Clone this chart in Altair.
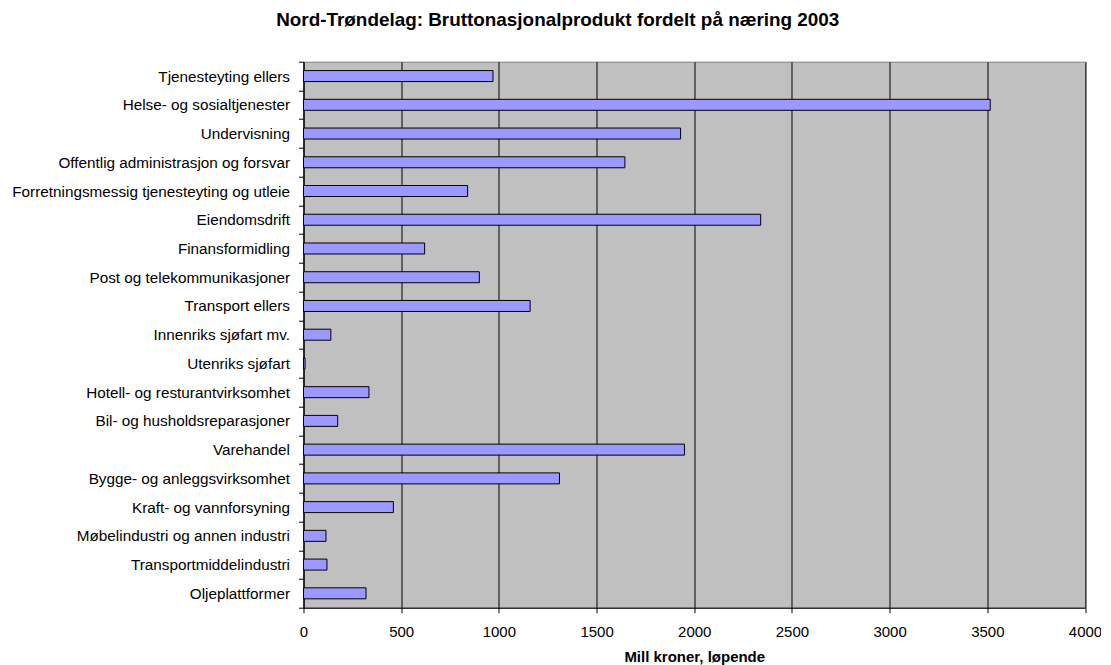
import altair as alt
import pandas as pd

naeringer = [
    "Tjenesteyting ellers",
    "Helse- og sosialtjenester",
    "Undervisning",
    "Offentlig administrasjon og forsvar",
    "Forretningsmessig tjenesteyting og utleie",
    "Eiendomsdrift",
    "Finansformidling",
    "Post og telekommunikasjoner",
    "Transport ellers",
    "Innenriks sjøfart mv.",
    "Utenriks sjøfart",
    "Hotell- og resturantvirksomhet",
    "Bil- og husholdsreparasjoner",
    "Varehandel",
    "Bygge- og anleggsvirksomhet",
    "Kraft- og vannforsyning",
    "Møbelindustri og annen industri",
    "Transportmiddelindustri",
    "Oljeplattformer",
]
verdier = [970, 3515, 1930, 1645, 840, 2340, 620, 900, 1160, 140, 8, 335, 175,
           1950, 1310, 460, 115, 120, 320]
x_ticks = [0, 500, 1000, 1500, 2000, 2500, 3000, 3500, 4000]

df = pd.DataFrame({"naering": naeringer, "verdi": verdier})

FONT = "Liberation Sans"

chart = alt.Chart(df).mark_bar(
    fill="#9999FF", stroke="#000000", strokeWidth=1, height=11
).encode(
    x=alt.X(
        "verdi:Q",
        scale=alt.Scale(domain=[0, 4000], nice=False, zero=True),
        axis=alt.Axis(
            values=x_ticks, format="d", grid=True, gridColor="#000000",
            gridWidth=1, gridOpacity=1, domainColor="#000000", domainWidth=1,
            tickColor="#000000", tickSize=5, tickWidth=1,
            labelFont=FONT, labelFontSize=15, labelColor="#000000",
            labelPadding=12, labelFlush=False,
            title="Mill kroner, løpende", titleFont=FONT, titleFontSize=15,
            titleFontWeight="bold", titleColor="#000000", titlePadding=10,
        ),
    ),
    y=alt.Y(
        "naering:N",
        sort=naeringer,
        scale=alt.Scale(domain=naeringer, paddingInner=0, paddingOuter=0),
        axis=alt.Axis(
            title=None, tickBand="extent", tickSize=5, tickColor="#000000",
            tickWidth=1, domainColor="#000000", domainWidth=1, grid=False,
            labelFont=FONT, labelFontSize=15.3, labelColor="#000000",
            labelPadding=9, labelLimit=500,
        ),
    ),
).properties(
    width=781.5,
    height=546,
    title=alt.TitleParams(
        "Nord-Trøndelag: Bruttonasjonalprodukt fordelt på næring 2003",
        font=FONT, fontSize=18.9, fontWeight="bold", color="#000000",
        anchor="middle", frame="group", dx=-136.5, offset=10,
        baseline="alphabetic",
    ),
    autosize=alt.AutoSizeParams(type="none"),
    padding={"left": 295.5, "top": 53.7, "right": 16, "bottom": 57},
    background="#FFFFFF",
).configure_view(
    fill="#C0C0C0", stroke="#808080", strokeWidth=1
)

chart.save("out.html", embed_options={"renderer": "svg", "actions": False})
